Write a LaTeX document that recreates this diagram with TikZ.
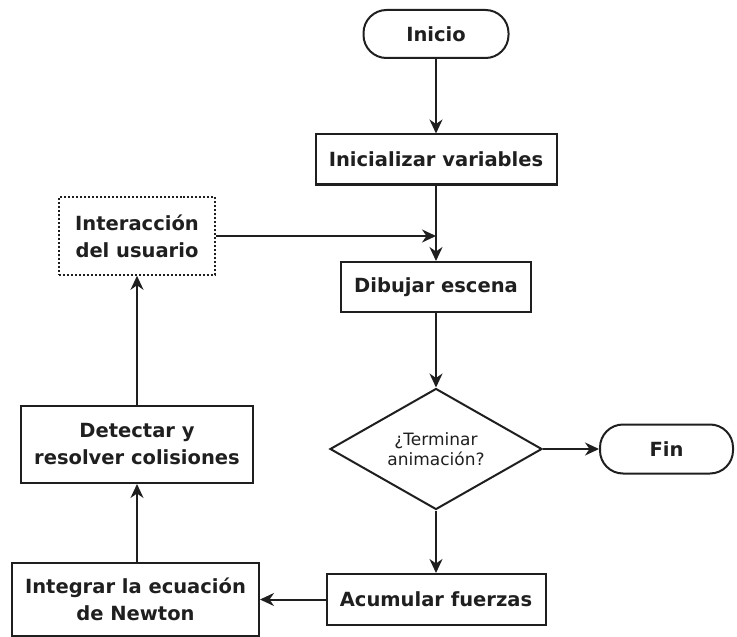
\documentclass[tikz,border=0pt]{standalone}
\usepackage{fontspec}
\setmainfont{DejaVu Sans}
\usetikzlibrary{shapes.geometric,arrows.meta}
\tikzset{
  base/.style={draw=black!88, line width=2bp, inner sep=0pt, align=center,
    text=black!88, font=\fontsize{19.5bp}{27bp}\selectfont\bfseries},
  box/.style={base, rectangle},
  term/.style={base, rectangle, rounded corners=23bp},
  dotbox/.style={base, rectangle, dotted, line width=1.6bp},
  decision/.style={base, diamond, shape aspect=1.75, font=\fontsize{17bp}{20bp}\selectfont},
  conn/.style={draw=black!88, line width=2bp,
    -{Stealth[length=14bp, width=13bp, inset=4.5bp]}}
}
\begin{document}
\begin{tikzpicture}[x=1bp,y=-1bp]
\useasboundingbox (0,0) rectangle (737,637);
\node[term, minimum width=145bp, minimum height=48bp] (inicio) at (436,34) {Inicio};
\node[box, minimum width=241bp, minimum height=50bp] (init) at (436,159.5) {Inicializar variables};
\node[dotbox, minimum width=156bp, minimum height=78bp] (user) at (137,236) {Interacción\\del usuario};
\node[box, minimum width=190bp, minimum height=50bp] (draw) at (436,287) {Dibujar escena};
\node[decision, minimum width=212bp, minimum height=121bp] (dec) at (436,449) {¿Terminar\\animación?};
\node[term, minimum width=133bp, minimum height=49bp] (fin) at (666.5,449) {Fin};
\node[box, minimum width=219bp, minimum height=51bp] (acum) at (436,599.5) {Acumular fuerzas};
\node[box, minimum width=247bp, minimum height=73bp] (integ) at (135.5,599) {Integrar la ecuación\\de Newton};
\node[box, minimum width=232bp, minimum height=77bp] (detect) at (137,444.5) {Detectar y\\resolver colisiones};
\coordinate (join) at (init.south |- user.east);
\draw[conn] (inicio) -- (init);
\draw[conn] (init) -- (draw);
\draw[conn] (user.east) -- (join);
\draw[conn] (draw) -- (dec);
\draw[conn] (dec.east) -- (fin.west);
\draw[conn] (dec.south) -- (acum.north);
\draw[conn] (acum.west) -- (integ.east |- acum.west);
\draw[conn] (integ.north -| user.south) -- (detect.south -| user.south);
\draw[conn] (detect.north -| user.south) -- (user.south);
\end{tikzpicture}
\end{document}
